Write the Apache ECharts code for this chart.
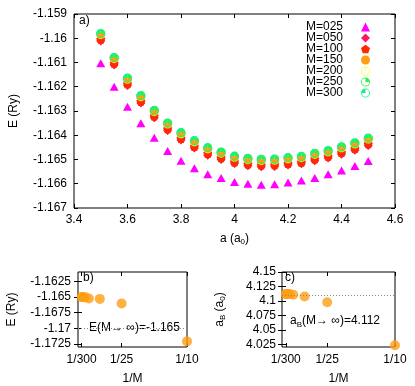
<!DOCTYPE html>
<html>
<head>
<meta charset="utf-8">
<script src="https://cdn.jsdelivr.net/npm/echarts@6/dist/echarts.min.js"></script>
<style>
  html, body { margin: 0; padding: 0; background: #fff; }
  #chart { width: 415px; height: 386px; }
</style>
</head>
<body>
<div id="chart"></div>
<script>
// lattice constants a (a0)
var aVals = [3.5, 3.55, 3.6, 3.65, 3.7, 3.75, 3.8, 3.85, 3.9, 3.95, 4.0, 4.05, 4.1, 4.15, 4.2, 4.25, 4.3, 4.35, 4.4, 4.45, 4.5];

// energies E (Ry) for each M
var e025 = [-1.16103, -1.16200, -1.16282, -1.16351, -1.16410, -1.16465, -1.16505, -1.16536, -1.16561, -1.16576, -1.16593, -1.16600, -1.16604, -1.16602, -1.16595, -1.16587, -1.16576, -1.16561, -1.16545, -1.16527, -1.16506];
var e050 = [-1.16011, -1.16110, -1.16195, -1.16267, -1.16328, -1.16380, -1.16420, -1.16453, -1.16482, -1.16500, -1.16517, -1.16526, -1.16530, -1.16529, -1.16523, -1.16518, -1.16505, -1.16494, -1.16478, -1.16462, -1.16442];
var e100 = [-1.16004, -1.16103, -1.16188, -1.16260, -1.16321, -1.16373, -1.16413, -1.16446, -1.16475, -1.16493, -1.16510, -1.16519, -1.16523, -1.16522, -1.16516, -1.16511, -1.16498, -1.16487, -1.16471, -1.16455, -1.16435];
var e150 = [-1.15986, -1.16085, -1.16170, -1.16242, -1.16303, -1.16355, -1.16395, -1.16428, -1.16457, -1.16475, -1.16492, -1.16501, -1.16505, -1.16504, -1.16498, -1.16493, -1.16480, -1.16469, -1.16453, -1.16437, -1.16417];
var e200 = [-1.15983, -1.16082, -1.16167, -1.16239, -1.16300, -1.16352, -1.16392, -1.16425, -1.16454, -1.16472, -1.16489, -1.16498, -1.16502, -1.16501, -1.16495, -1.16490, -1.16477, -1.16466, -1.16450, -1.16434, -1.16414];
var e250 = [-1.15981, -1.16080, -1.16165, -1.16237, -1.16298, -1.16350, -1.16390, -1.16423, -1.16452, -1.16470, -1.16487, -1.16496, -1.16500, -1.16499, -1.16493, -1.16488, -1.16475, -1.16464, -1.16448, -1.16432, -1.16412];
var e300 = [-1.15980, -1.16079, -1.16164, -1.16236, -1.16297, -1.16349, -1.16389, -1.16422, -1.16451, -1.16469, -1.16486, -1.16495, -1.16499, -1.16498, -1.16492, -1.16487, -1.16474, -1.16463, -1.16447, -1.16431, -1.16411];

// extrapolation panels
var mVals = [300, 250, 200, 150, 100, 50, 25, 10];
var eMin = [-1.16499, -1.16500, -1.16502, -1.16505, -1.16523, -1.16530, -1.16604, -1.17210];
var aMin = [4.112, 4.112, 4.112, 4.112, 4.111, 4.108, 4.098, 4.024];
var eInf = -1.165;
var aInf = 4.112;

// tick labels
var invTicks = [1 / 300, 1 / 25, 1 / 10];
var invTickLabels = ['1/300', '1/25', '1/10'];
var bYTicks = [-1.1625, -1.165, -1.1675, -1.17, -1.1725];
var cYTicks = [4.025, 4.05, 4.075, 4.1, 4.125, 4.15];

var font = 'Liberation Sans, Arial, Helvetica, sans-serif';
var chart = echarts.init(document.getElementById('chart'));

var pair = function (xs, ys) {
  var res = [];
  for (var i = 0; i < xs.length; i++) res.push([xs[i], ys[i]]);
  return res;
};
var invPair = function (ys) {
  var res = [];
  for (var i = 0; i < mVals.length; i++) res.push([1 / mVals[i], ys[i]]);
  return res;
};

var ring = 'M10 0 A10 10 0 1 1 10 20 A10 10 0 1 1 10 0 Z M10 1.8 A8.2 8.2 0 1 0 10 18.2 A8.2 8.2 0 1 0 10 1.8 Z';
var pentagon = 'path://M10 0 L19.5 6.9 L15.9 18.1 L4.1 18.1 L0.5 6.9 Z';
var ringLine = 'path://' + ring + ' M9.2 10 L10.8 10 L10.8 1 L9.2 1 Z';
var ringQ1 = 'path://' + ring + ' M10 10 L10 0 A10 10 0 0 1 20 10 Z';
var ringQ2 = 'path://' + ring + ' M10 10 L0 10 A10 10 0 0 1 10 0 Z';

var labelStyle = { color: '#000', fontSize: 12, fontFamily: font };
var subRich = {
  sub: { fontSize: 8, fontFamily: font, color: '#000', padding: [7, 0, 0, 0] }
};

var invFormatter = function (v) {
  for (var i = 0; i < invTicks.length; i++) {
    if (Math.abs(v - invTicks[i]) < 1e-6) return invTickLabels[i];
  }
  return '';
};
var numFormatter = function (v) { return String(+v.toFixed(4)); };

var mainAxis = function (extra) {
  var base = {
    type: 'value',
    axisLine: { show: false },
    axisTick: { show: true, inside: true, length: 4, lineStyle: { color: '#000' } },
    axisLabel: Object.assign({ margin: 6 }, labelStyle),
    splitLine: { show: false },
    nameTextStyle: Object.assign({ rich: subRich }, labelStyle)
  };
  return Object.assign(base, extra);
};
var mirror = function (extra) {
  var base = {
    type: 'value',
    axisLine: { show: false },
    axisTick: { show: true, inside: true, length: 4, lineStyle: { color: '#000' } },
    axisLabel: { show: false },
    splitLine: { show: false }
  };
  return Object.assign(base, extra);
};

var topSeries = function (name, data, symbol, size, color) {
  return {
    name: name,
    type: 'scatter',
    xAxisIndex: 0,
    yAxisIndex: 0,
    data: pair(aVals, data),
    symbol: symbol,
    symbolSize: size,
    itemStyle: { color: color, opacity: 1 },
    silent: true
  };
};

var option = {
  animation: false,
  backgroundColor: '#fff',
  textStyle: { fontFamily: font },
  grid: [
    { left: 71, top: 14, width: 324, height: 194, show: true, borderColor: '#000', borderWidth: 1, backgroundColor: 'transparent' },
    { left: 78, top: 272, width: 109, height: 76, show: true, borderColor: '#000', borderWidth: 1, backgroundColor: 'transparent' },
    { left: 282, top: 272, width: 113, height: 76, show: true, borderColor: '#000', borderWidth: 1, backgroundColor: 'transparent' }
  ],
  legend: {
    orient: 'vertical',
    right: 40,
    top: 16,
    align: 'right',
    itemWidth: 9,
    itemHeight: 9,
    itemGap: -1,
    textStyle: { color: '#000', fontSize: 12, fontFamily: font, lineHeight: 11, padding: [0, 13, 0, 0] },
    data: ['M=025', 'M=050', 'M=100', 'M=150', 'M=200', 'M=250', 'M=300']
  },
  xAxis: [
    mainAxis({ gridIndex: 0, min: 3.4, max: 4.6, interval: 0.2, name: 'a (a{sub|0})', nameLocation: 'middle', nameGap: 23 }),
    mirror({ gridIndex: 0, position: 'top', min: 3.4, max: 4.6, interval: 0.2 }),
    mainAxis({ gridIndex: 1, min: 0, max: 0.1,
      axisTick: { show: true, inside: true, length: 4, lineStyle: { color: '#000' }, customValues: invTicks },
      axisLabel: Object.assign({ margin: 7, customValues: invTicks, formatter: invFormatter }, labelStyle),
      name: '1/M', nameLocation: 'middle', nameGap: 26 }),
    mirror({ gridIndex: 1, position: 'top', min: 0, max: 0.1,
      axisTick: { show: true, inside: true, length: 4, lineStyle: { color: '#000' }, customValues: invTicks } }),
    mainAxis({ gridIndex: 2, min: 0, max: 0.1,
      axisTick: { show: true, inside: true, length: 4, lineStyle: { color: '#000' }, customValues: invTicks },
      axisLabel: Object.assign({ margin: 7, customValues: invTicks, formatter: invFormatter }, labelStyle),
      name: '1/M', nameLocation: 'middle', nameGap: 26 }),
    mirror({ gridIndex: 2, position: 'top', min: 0, max: 0.1,
      axisTick: { show: true, inside: true, length: 4, lineStyle: { color: '#000' }, customValues: invTicks } })
  ],
  yAxis: [
    mainAxis({ gridIndex: 0, min: -1.167, max: -1.159, interval: 0.001, name: 'E (Ry)', nameLocation: 'middle', nameGap: 54,
      axisLabel: Object.assign({ margin: 7, formatter: numFormatter }, labelStyle) }),
    mirror({ gridIndex: 0, position: 'right', min: -1.167, max: -1.159, interval: 0.001 }),
    mainAxis({ gridIndex: 1, min: -1.173, max: -1.161, name: 'E (Ry)', nameLocation: 'middle', nameGap: 60,
      axisTick: { show: true, inside: true, length: 4, lineStyle: { color: '#000' }, customValues: bYTicks },
      axisLabel: Object.assign({ margin: 7, customValues: bYTicks, formatter: numFormatter }, labelStyle) }),
    mirror({ gridIndex: 1, position: 'right', min: -1.173, max: -1.161,
      axisTick: { show: true, inside: true, length: 4, lineStyle: { color: '#000' }, customValues: bYTicks } }),
    mainAxis({ gridIndex: 2, min: 4.021, max: 4.15, name: 'a{sub|B} (a{sub|0})', nameLocation: 'middle', nameGap: 55,
      axisTick: { show: true, inside: true, length: 4, lineStyle: { color: '#000' }, customValues: cYTicks },
      axisLabel: Object.assign({ margin: 6, customValues: cYTicks, formatter: numFormatter }, labelStyle) }),
    mirror({ gridIndex: 2, position: 'right', min: 4.021, max: 4.15,
      axisTick: { show: true, inside: true, length: 4, lineStyle: { color: '#000' }, customValues: cYTicks } })
  ],
  graphic: [
    { type: 'text', left: 79, top: 15, style: { text: 'a)', fill: '#000', font: '12px ' + font } },
    { type: 'text', left: 83, top: 272, style: { text: 'b)', fill: '#000', font: '12px ' + font } },
    { type: 'text', left: 285, top: 272, style: { text: 'c)', fill: '#000', font: '12px ' + font } },
    { type: 'text', left: 89, top: 322, style: { text: 'E(M\u2192 \u221e)=-1.165', fill: '#000', font: '12px ' + font } },
    { type: 'text', left: 290, top: 315, style: {
      text: 'a{sub|B}(M\u2192 \u221e)=4.112', fill: '#000', font: '12px ' + font,
      rich: { sub: { fontSize: 8, fontFamily: font, fill: '#000', padding: [7, 0, 0, 0] } } } }
  ],
  series: [
    topSeries('M=025', e025, 'triangle', [9, 8], '#ff00ff'),
    topSeries('M=050', e050, 'diamond', 9, '#ff1466'),
    topSeries('M=100', e100, pentagon, 9, '#ff2a00'),
    topSeries('M=150', e150, 'circle', 9, '#ff9d14'),
    topSeries('M=200', e200, ringLine, 9, '#f4ff3c'),
    topSeries('M=250', e250, ringQ1, 9, '#2ef04a'),
    topSeries('M=300', e300, ringQ2, 9, '#12f28a'),
    {
      name: 'Einf',
      type: 'scatter',
      xAxisIndex: 2,
      yAxisIndex: 2,
      data: invPair(eMin),
      symbol: 'circle',
      symbolSize: 10,
      itemStyle: { color: '#ff9d14' },
      silent: true,
      markLine: {
        silent: true,
        symbol: 'none',
        label: { show: false },
        lineStyle: { type: [1, 2], color: '#888', width: 1 },
        data: [{ yAxis: eInf }]
      }
    },
    {
      name: 'ainf',
      type: 'scatter',
      xAxisIndex: 4,
      yAxisIndex: 4,
      data: invPair(aMin),
      symbol: 'circle',
      symbolSize: 10,
      itemStyle: { color: '#ff9d14' },
      silent: true,
      markLine: {
        silent: true,
        symbol: 'none',
        label: { show: false },
        lineStyle: { type: [1, 2], color: '#888', width: 1 },
        data: [{ yAxis: aInf }]
      }
    }
  ]
};

chart.setOption(option);
</script>
</body>
</html>
